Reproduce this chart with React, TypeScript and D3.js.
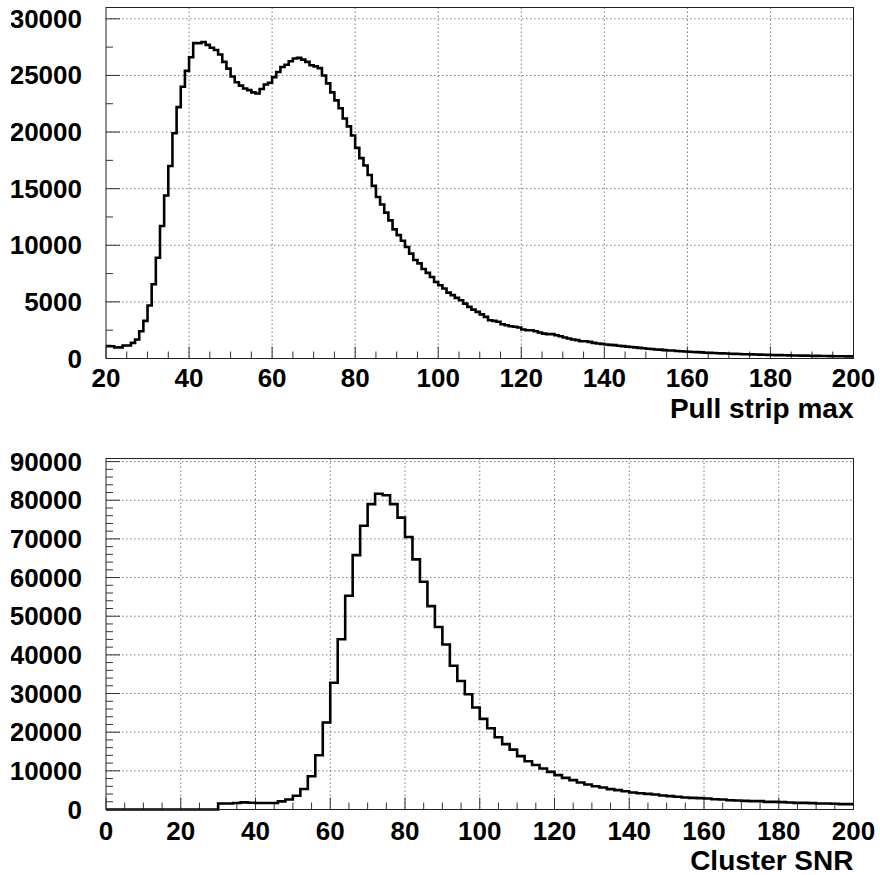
import React from "react";
import * as d3 from "d3";

// ---------- Data ----------
// Top histogram: "Pull strip max", 1-unit bins from 20 to 200
const pullBinStart = 20;
const pullBinWidth = 1;
const pullCounts = [
  1090, 1080, 970, 980, 1150, 1150, 1380, 1680, 2410, 3320,
  4680, 6560, 8900, 11700, 14400, 17000, 19900, 22200, 24000, 25400,
  26600, 27850, 27850, 27950, 27700, 27450, 27250, 26850, 26200, 25600,
  24900, 24400, 24100, 23850, 23700, 23500, 23400, 23800, 24200, 24350,
  24850, 25300, 25750, 25950, 26250, 26500, 26550, 26400, 26200, 25900,
  25800, 25650, 25000, 24300, 23500, 22800, 22100, 21200, 20500, 19700,
  18600, 17700, 17050, 16200, 15250, 14260, 13600, 12880, 12200, 11400,
  10900, 10400, 9850, 9260, 8700, 8400, 7900, 7560, 7200, 6760,
  6470, 6180, 5820, 5600, 5350, 5150, 4850, 4560, 4320, 4120,
  3900, 3680, 3380, 3320, 3240, 3030, 2940, 2850, 2800, 2740,
  2560, 2500, 2500, 2410, 2300, 2200, 2150, 2150, 2060, 1970,
  1850, 1760, 1680, 1620, 1530, 1530, 1470, 1380, 1320, 1290,
  1240, 1200, 1180, 1120, 1090, 1050, 1020, 980, 940, 900,
  860, 840, 800, 780, 740, 710, 700, 660, 640, 620,
  600, 580, 560, 540, 510, 500, 480, 470, 450, 440,
  420, 410, 400, 380, 370, 360, 350, 340, 330, 320,
  310, 300, 295, 285, 280, 270, 260, 255, 250, 240,
  235, 230, 225, 215, 210, 205, 200, 195, 190, 185,
];
const pullXTicks = [20, 40, 60, 80, 100, 120, 140, 160, 180, 200];
const pullYTicks = [0, 5000, 10000, 15000, 20000, 25000, 30000];
const pullXDomain = [20, 200];
const pullYDomain = [0, 31000];
const pullTitle = "Pull strip max";

// Bottom histogram: "Cluster SNR", 2-unit bins from 0 to 200
const snrBinStart = 0;
const snrBinWidth = 2;
const snrCounts = [
  0, 0, 0, 0, 0, 0, 0, 0, 0, 0,
  0, 0, 0, 0, 0, 1550, 1550, 1700, 1850, 1750,
  1700, 1700, 1700, 2100, 2600, 3550, 5300, 8600, 14050, 22500,
  32800, 44050, 55300, 65800, 73400, 79000, 81700, 81300, 79000, 75500,
  70500, 64700, 58900, 52600, 47200, 42700, 37200, 33250, 29800, 26400,
  23450, 21000, 18700, 16900, 15500, 13800, 12500, 11500, 10600, 9740,
  8880, 8190, 7590, 6980, 6470, 6030, 5690, 5260, 5000, 4740,
  4400, 4220, 4050, 3880, 3620, 3450, 3280, 3100, 3000, 2930,
  2840, 2670, 2590, 2410, 2330, 2240, 2160, 2160, 1980, 1980,
  1900, 1810, 1720, 1720, 1640, 1550, 1550, 1470, 1380, 1380,
];
const snrXTicks = [0, 20, 40, 60, 80, 100, 120, 140, 160, 180, 200];
const snrYTicks = [0, 10000, 20000, 30000, 40000, 50000, 60000, 70000, 80000, 90000];
const snrXDomain = [0, 200];
const snrYDomain = [0, 90800];
const snrTitle = "Cluster SNR";

// ---------- Drawing ----------
const FONT = "'Liberation Sans', Arial, Helvetica, sans-serif";

type PanelProps = {
  id: string;
  top: number;
  bottom: number;
  left: number;
  right: number;
  counts: number[];
  binStart: number;
  binWidth: number;
  xDomain: number[];
  yDomain: number[];
  xTicks: number[];
  yTicks: number[];
  xMinorStep: number;
  yMinorStep: number;
  title: string;
  labelBaseline: number;
  titleBaseline: number;
};

function Panel(p: PanelProps) {
  const x = d3.scaleLinear().domain(p.xDomain).range([p.left, p.right]);
  const y = d3.scaleLinear().domain(p.yDomain).range([p.bottom, p.top]);

  const pts: [number, number][] = [];
  p.counts.forEach((c, i) => {
    const x0 = p.binStart + i * p.binWidth;
    pts.push([x0, c]);
    pts.push([x0 + p.binWidth, c]);
  });
  const line = d3
    .line<[number, number]>()
    .x((d) => x(d[0]))
    .y((d) => y(d[1]));

  const xMinor = d3.range(p.xDomain[0], p.xDomain[1] + 0.001, p.xMinorStep);
  const yMinor = d3.range(p.yDomain[0], p.yDomain[1] + 0.001, p.yMinorStep);

  const gridColor = "#7a7a7a";
  const tickColor = "#333";

  return (
    <g>
      <defs>
        <clipPath id={"clipL" + p.id}>
          <rect x={11} y={0} width={900} height={900} />
        </clipPath>
      </defs>
      {/* grid */}
      {p.xTicks
        .filter((t) => t > p.xDomain[0] && t < p.xDomain[1])
        .map((t) => (
          <line
            key={"gx" + t}
            x1={x(t)}
            x2={x(t)}
            y1={p.top}
            y2={p.bottom}
            stroke={gridColor}
            strokeWidth={1}
            strokeDasharray="1.5,2.5"
          />
        ))}
      {p.yTicks
        .filter((t) => t > p.yDomain[0] && t < p.yDomain[1])
        .map((t) => (
          <line
            key={"gy" + t}
            x1={p.left}
            x2={p.right}
            y1={y(t)}
            y2={y(t)}
            stroke={gridColor}
            strokeWidth={1}
            strokeDasharray="1.5,2.5"
          />
        ))}
      {/* ticks */}
      {xMinor.map((t) => {
        const major = p.xTicks.includes(t);
        return (
          <line
            key={"tx" + t}
            x1={x(t)}
            x2={x(t)}
            y1={p.bottom}
            y2={p.bottom - (major ? 12 : 7)}
            stroke={tickColor}
            strokeWidth={1}
          />
        );
      })}
      {yMinor.map((t) => {
        const major = p.yTicks.includes(t);
        return (
          <line
            key={"ty" + t}
            x1={p.left}
            x2={p.left + (major ? 14 : 7)}
            y1={y(t)}
            y2={y(t)}
            stroke={tickColor}
            strokeWidth={1}
          />
        );
      })}
      {/* histogram */}
      <path d={line(pts) || ""} fill="none" stroke="#000" strokeWidth={2.6} strokeLinejoin="miter" />
      {/* frame */}
      <rect
        x={p.left}
        y={p.top}
        width={p.right - p.left}
        height={p.bottom - p.top}
        fill="none"
        stroke="#222"
        strokeWidth={1}
      />
      {/* labels */}
      {p.xTicks.map((t) => (
        <text
          key={"lx" + t}
          x={x(t)}
          y={p.labelBaseline}
          textAnchor="middle"
          fontFamily={FONT}
          fontWeight="bold"
          fontSize={26}
          fill="#000"
        >
          {t}
        </text>
      ))}
      <g clipPath={`url(#clipL${p.id})`}>
        {p.yTicks.map((t) => (
          <text
            key={"ly" + t}
            x={82}
            y={y(t) + 9}
            textAnchor="end"
            fontFamily={FONT}
            fontWeight="bold"
            fontSize={26}
            fill="#000"
          >
            {t}
          </text>
        ))}
      </g>
      <text
        x={p.right}
        y={p.titleBaseline}
        textAnchor="end"
        fontFamily={FONT}
        fontWeight="bold"
        fontSize={28}
        fill="#000"
      >
        {p.title}
      </text>
    </g>
  );
}

export default function App() {
  return (
    <svg
      width={880}
      height={875}
      style={{ position: "absolute", left: 0, top: 0, background: "#fff" }}
    >
      <rect x={0} y={0} width={880} height={875} fill="#fff" />
      <Panel
        id="top"
        top={7.5}
        bottom={358.5}
        left={106}
        right={853.5}
        counts={pullCounts}
        binStart={pullBinStart}
        binWidth={pullBinWidth}
        xDomain={pullXDomain}
        yDomain={pullYDomain}
        xTicks={pullXTicks}
        yTicks={pullYTicks}
        xMinorStep={5}
        yMinorStep={2500}
        title={pullTitle}
        labelBaseline={387}
        titleBaseline={418}
      />
      <Panel
        id="bot"
        top={458.5}
        bottom={809.5}
        left={106}
        right={853.5}
        counts={snrCounts}
        binStart={snrBinStart}
        binWidth={snrBinWidth}
        xDomain={snrXDomain}
        yDomain={snrYDomain}
        xTicks={snrXTicks}
        yTicks={snrYTicks}
        xMinorStep={5}
        yMinorStep={2000}
        title={snrTitle}
        labelBaseline={840}
        titleBaseline={870}
      />
    </svg>
  );
}
